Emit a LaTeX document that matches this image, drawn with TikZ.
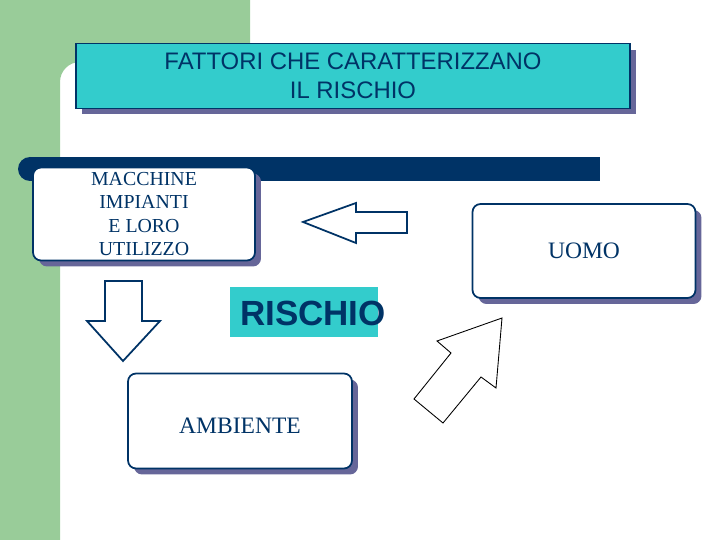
\documentclass[tikz,border=0pt]{standalone}
\usepackage{fontspec}
\setmainfont{Liberation Serif}
\setsansfont{Liberation Sans}
\usetikzlibrary{positioning,shadows}
\definecolor{navy}{HTML}{003366}
\definecolor{ciano}{HTML}{33CCCC}
\definecolor{ombra}{HTML}{666699}
\definecolor{verde}{HTML}{99CC99}
\tikzset{
slide/.style={x=0.02cm,y=-0.02cm},
box/.style={rounded corners=0.16cm,draw=navy,line width=1pt,fill=white,
drop shadow={shadow xshift=0.12cm,shadow yshift=-0.12cm,fill=ombra,opacity=1},
text=navy,align=center,inner sep=0pt},
titlebox/.style={box,rounded corners=0pt,fill=ciano},
blockarrow/.style={draw=navy,line width=1pt,fill=white,line join=miter},
}

\begin{document}
\begin{tikzpicture}[slide]
                    \useasboundingbox (0,0) rectangle (720,540);
                    % sfondo
                    \fill[verde] (0,0) -- (250,0) -- (250,62) [rounded corners=0.4cm] -- (60,62) [sharp corners] -- (60,540) -- (0,540) -- cycle;
                    \fill[navy] (30,157) rectangle (600,181);
                    \fill[navy] (30,169) circle (0.24cm);

                    \node[titlebox,minimum width=11.08cm,minimum height=1.3cm,
                          font=\fontsize{13.6}{16.4}\selectfont\sffamily] (titolo) at (353,76)
                          {FATTORI CHE CARATTERIZZANO\\IL RISCHIO};
                    \node[box,minimum width=4.44cm,minimum height=1.86cm,
                          font=\fontsize{11.3}{13.3}\selectfont] (macchine) at (144,214)
                          {MACCHINE\\IMPIANTI\\E LORO\\UTILIZZO};
                    \node[box,minimum width=4.46cm,minimum height=1.88cm,
                          font=\fontsize{13.4}{16}\selectfont] (uomo) at (584,251) {UOMO};
                    \node[box,minimum width=4.48cm,minimum height=1.9cm,text height=14.6pt,text depth=0pt,
                          font=\fontsize{13.4}{16}\selectfont] (ambiente) at (240,421) {AMBIENTE};

                    \node[fill=ciano,minimum width=2.96cm,minimum height=1.02cm,inner sep=0pt] (rischiobox) at (304,312) {};
                    \node[text=navy,inner sep=0pt,font=\fontsize{19.9}{22}\selectfont\sffamily\bfseries] (rischio) at (313,313) {RISCHIO};

                    % frecce
                    \draw[blockarrow] (303,222) -- (356,203) -- (356,212) -- (407,212) -- (407,233) -- (356,233) -- (356,243) -- cycle;
                    \draw[blockarrow] (105,281) -- (142,281) -- (142,321) -- (160,321) -- (123,361) -- (87,321) -- (105,321) -- cycle;
                    \draw[blockarrow,draw=black,line width=0.5pt] (502,318) -- (496,388) -- (481,377) -- (443,423) -- (414,399) -- (451,353) -- (437,341) -- cycle;
                \end{tikzpicture}
\end{document}
